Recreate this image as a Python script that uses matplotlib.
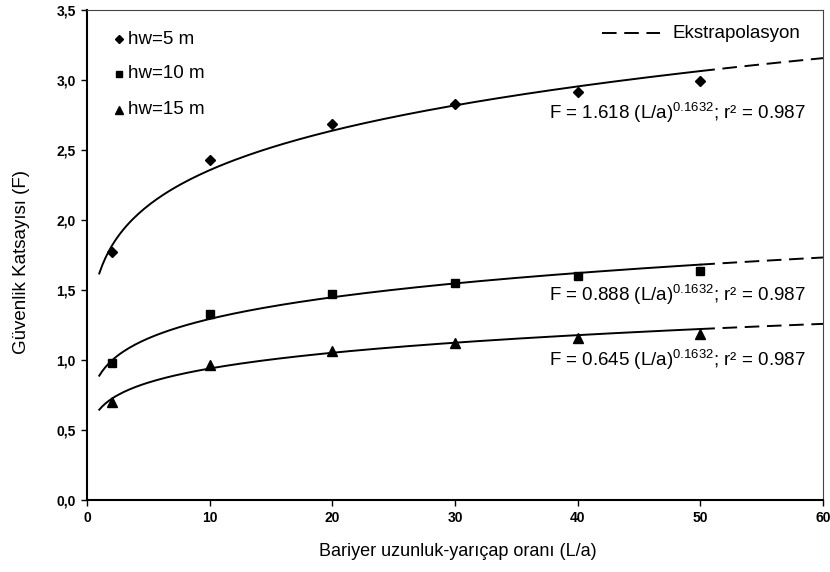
import matplotlib
matplotlib.use("Agg")
import matplotlib.pyplot as plt
from matplotlib import font_manager
import numpy as np

# polices
noms = {f.name for f in font_manager.fontManager.ttflist}
police = "Liberation Sans" if "Liberation Sans" in noms else "DejaVu Sans"

plt.rcParams['font.family'] = [police, 'DejaVu Sans']
plt.rcParams['mathtext.fontset'] = 'custom'
plt.rcParams['mathtext.rm'] = police
plt.rcParams['mathtext.it'] = police
plt.rcParams['lines.scale_dashes'] = False

# données
x_mesure = [2, 10, 20, 30, 40, 50]
f_hw5 = [1.77, 2.43, 2.686, 2.826, 2.916, 2.99]
f_hw10 = [0.976, 1.33, 1.474, 1.552, 1.60, 1.638]
f_hw15 = [0.70, 0.964, 1.066, 1.12, 1.157, 1.186]

coefs = [1.618, 0.888, 0.645]
exposant = 0.1632
r2 = 0.987
labels = ["hw=5 m", "hw=10 m", "hw=15 m"]
marqueurs = ["D", "s", "^"]
tailles = [5, 6, 7]

x_ticks = [0, 10, 20, 30, 40, 50, 60]
y_ticks = [0.0, 0.5, 1.0, 1.5, 2.0, 2.5, 3.0, 3.5]

fig = plt.figure(figsize=(8.3, 5.72), dpi=100)
ax = fig.add_axes([87/830, 1 - 500/572, (823-87)/830, 490/572])

x_fit = np.linspace(1, 50, 200)
x_ext = np.linspace(50, 60, 50)

series = [f_hw5, f_hw10, f_hw15]
for valeurs, a, lab, m, t in zip(series, coefs, labels, marqueurs, tailles):
    ax.plot(x_fit, a * x_fit ** exposant, color='black', lw=1.4)
    ax.plot(x_ext, a * x_ext ** exposant, color='black', lw=1.4, dashes=(10.5, 5.5))
    ax.plot(x_mesure, valeurs, linestyle='none', marker=m, ms=t, color='black', label=lab)

# équations
y_eq = [(113, "1.618"), (295, "0.888"), (360, "0.645")]
for ypix, a in y_eq:
    ax.text(806/830, 1 - ypix/572, r"F = %s (L/a)$^{%s}$; r² = %s" % (a, exposant, r2),
            transform=fig.transFigure, ha='right', va='center', fontsize=13.5)

# légende des marqueurs (faite à la main)
for (ypix, lab, m, t) in zip([39, 74, 110], labels, marqueurs, tailles):
    fig.lines.append(plt.Line2D([119/830], [1 - ypix/572], marker=m, ms=t - 1,
                                color='black', linestyle='none', transform=fig.transFigure))
    fig.text(128/830, 1 - ypix/572, lab, ha='left', va='center', fontsize=13.5)

# légende extrapolation
fig.lines.append(plt.Line2D([602/830, 660/830], [1 - 33/572, 1 - 33/572], color='black',
                            lw=1.4, dashes=(10.5, 5.5), transform=fig.transFigure))
fig.text(672/830, 1 - 33/572, "Ekstrapolasyon", ha='left', va='center', fontsize=13.5)

ax.set_xlim(0, 60)
ax.set_ylim(0, 3.5)
ax.set_xticks(x_ticks)
ax.set_yticks(y_ticks)
ax.set_xticklabels([str(v) for v in x_ticks], fontweight='bold', fontsize=10)
ax.set_yticklabels([("%.1f" % v).replace(".", ",") for v in y_ticks],
                   fontweight='bold', fontsize=10)
ax.tick_params(direction='out', length=4, width=1, top=False, right=False, pad=4)

for cote in ['left', 'bottom']:
    ax.spines[cote].set_linewidth(1.5)
for cote in ['top', 'right']:
    ax.spines[cote].set_linewidth(0.8)
    ax.spines[cote].set_color('#444444')

fig.text(21/830, 1 - 262/572, "Güvenlik Katsayısı (F)", rotation=90, ha='center', va='center', fontsize=13.5)
fig.text(458/830, 1 - 552/572, "Bariyer uzunluk-yarıçap oranı (L/a)", ha='center', va='center', fontsize=13)

fig.savefig("out.png", dpi=100)
